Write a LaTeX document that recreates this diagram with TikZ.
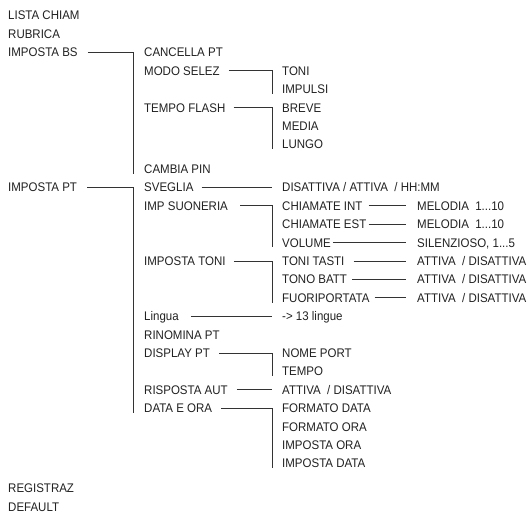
\documentclass[tikz,border=0pt]{standalone}
\usepackage{fontspec}
\setmainfont[FakeStretch=0.92]{Liberation Sans}
\definecolor{txt}{HTML}{222222}
\definecolor{ln}{HTML}{333333}
\begin{document}
\begin{tikzpicture}[x=1pt,y=1pt,
  lbl/.style={anchor=west, inner sep=0pt, text height=9pt, text depth=0pt,
              font=\fontsize{12.5}{14}\selectfont, text=txt},
  conn/.style={draw=ln, line width=0.9pt, shorten <=#1},
  conn/.default=8pt]
\fill[white] (0,0) rectangle (530,-519);
\useasboundingbox (0,0) rectangle (530,-519);
% corner columns
\coordinate (k2) at (133,0);
\coordinate (k3) at (272,0);
\coordinate (k4) at (406,0);
% column 1
\node[lbl] (lista) at (8,-15.5) {LISTA CHIAM};
\node[lbl] (rubr)  at (8,-33.9) {RUBRICA};
\node[lbl] (bs)    at (8,-52.3) {IMPOSTA BS};
\node[lbl] (pt)    at (8,-187.4) {IMPOSTA PT};
\node[lbl] (reg)   at (8,-488.1) {REGISTRAZ};
\node[lbl] (def)   at (8,-506.5) {DEFAULT};
% column 2
\node[lbl] (canc)  at (144,-52.3) {CANCELLA PT};
\node[lbl] (modo)  at (144,-70.7) {MODO SELEZ};
\node[lbl] (tflash) at (144,-107.5) {TEMPO FLASH};
\node[lbl] (cpin)  at (144,-169.0) {CAMBIA PIN};
\node[lbl] (svg)   at (144,-187.4) {SVEGLIA};
\node[lbl] (suon)  at (144,-205.8) {IMP SUONERIA};
\node[lbl] (itoni) at (144,-261.0) {IMPOSTA TONI};
\node[lbl] (ling)  at (144,-316.2) {Lingua};
\node[lbl] (rinom) at (144,-334.6) {RINOMINA PT};
\node[lbl] (disp)  at (144,-353.0) {DISPLAY PT};
\node[lbl] (risp)  at (144,-389.8) {RISPOSTA AUT};
\node[lbl] (data)  at (144,-408.2) {DATA E ORA};
% column 3
\node[lbl] (toni)  at (282,-70.7) {TONI};
\node[lbl] (imp)   at (282,-89.1) {IMPULSI};
\node[lbl] (breve) at (282,-107.5) {BREVE};
\node[lbl] (media) at (282,-125.9) {MEDIA};
\node[lbl] (lungo) at (282,-144.3) {LUNGO};
\node[lbl] (dis)   at (282,-187.4) {DISATTIVA / ATTIVA\ \ / HH:MM};
\node[lbl] (chint) at (282,-205.8) {CHIAMATE INT};
\node[lbl] (chest) at (282,-224.2) {CHIAMATE EST};
\node[lbl] (vol)   at (282,-242.6) {VOLUME};
\node[lbl] (ttasti) at (282,-261.0) {TONI TASTI};
\node[lbl] (tbatt) at (282,-279.4) {TONO BATT};
\node[lbl] (fuori) at (282,-297.8) {FUORIPORTATA};
\node[lbl] (lingue) at (282,-316.2) {-> 13 lingue};
\node[lbl] (nome)  at (282,-353.0) {NOME PORT};
\node[lbl] (tempo) at (282,-371.4) {TEMPO};
\node[lbl] (attr)  at (282,-389.8) {ATTIVA\ \ / DISATTIVA};
\node[lbl] (fdata) at (282,-408.2) {FORMATO DATA};
\node[lbl] (fora)  at (282,-426.6) {FORMATO ORA};
\node[lbl] (iora)  at (282,-445.0) {IMPOSTA ORA};
\node[lbl] (idata) at (282,-463.4) {IMPOSTA DATA};
% column 4
\node[lbl] (mel1)  at (417,-205.8) {MELODIA\ \ 1...10};
\node[lbl] (mel2)  at (417,-224.2) {MELODIA\ \ 1...10};
\node[lbl] (sil)   at (417,-242.6) {SILENZIOSO, 1...5};
\node[lbl] (att1)  at (417,-261.0) {ATTIVA\ \ / DISATTIVA};
\node[lbl] (att2)  at (417,-279.4) {ATTIVA\ \ / DISATTIVA};
\node[lbl] (att3)  at (417,-297.8) {ATTIVA\ \ / DISATTIVA};
% connectors column 1 -> 2
\draw[conn=10pt] (bs.east) -| (cpin.south -| k2);
\draw[conn=10pt] (pt.east) -| (data.south -| k2);
% connectors column 2 -> 3
\draw[conn=9pt] (modo.east) -| (imp.south -| k3);
\draw[conn=8pt] (tflash.east) -| (lungo.south -| k3);
\draw[conn=8pt] (svg.east) -- (svg.east -| k3);
\draw[conn=12pt] (suon.east) -| (vol.south -| k3);
\draw[conn=8pt] (itoni.east) -| (fuori.south -| k3);
\draw[conn=12pt] (ling.east) -- (ling.east -| k3);
\draw[conn=9pt] (disp.east) -| (tempo.south -| k3);
\draw[conn=9pt] (risp.east) -- (risp.east -| k3);
\draw[conn=9pt] (data.east) -| (idata.south -| k3);
% connectors column 3 -> 4
\draw[conn=6pt] (chint.east) -- (chint.east -| k4);
\draw[conn=2pt] (chest.east) -- (chest.east -| k4);
\draw[conn=2pt] (vol.east) -- (vol.east -| k4);
\draw[conn=9pt] (ttasti.east) -- (ttasti.east -| k4);
\draw[conn=5pt] (tbatt.east) -- (tbatt.east -| k4);
\draw[conn=5pt] (fuori.east) -- (fuori.east -| k4);
\end{tikzpicture}
\end{document}
